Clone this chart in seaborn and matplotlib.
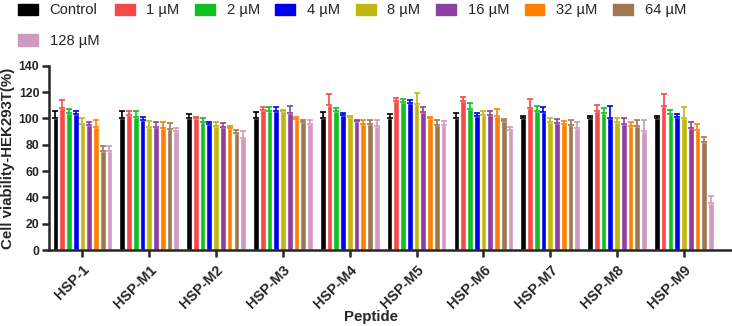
import numpy as np
import pandas as pd
import seaborn as sns
import matplotlib.pyplot as plt

peptides = ['HSP-1', 'HSP-M1', 'HSP-M2', 'HSP-M3', 'HSP-M4',
            'HSP-M5', 'HSP-M6', 'HSP-M7', 'HSP-M8', 'HSP-M9']
doses = ['Control', '1 µM', '2 µM', '4 µM', '8 µM', '16 µM', '32 µM', '64 µM', '128 µM']
colors = ['#000000', '#F94848', '#10C020', '#0000F0', '#C0B810',
          '#8E3FA0', '#FF8000', '#A07850', '#D099C0']

ctrl = [100, 100, 100.5, 100, 100, 100.5, 100.5, 100, 100.5, 100.5]
ctrl_err = [6, 6, 3, 5, 5, 3, 3.5, 2, 1.5, 1.5]
um1 = [108, 103, 100, 106.5, 110, 113.5, 113.5, 108, 106, 109.5]
um1_err = [6, 3, 1, 2.5, 8.5, 2, 3, 7, 4, 9]
um2 = [104.5, 101, 97.5, 105.5, 105.5, 112.5, 107.5, 105.5, 104, 103.5]
um2_err = [3, 5, 2.5, 3, 2.5, 2, 4, 4, 4, 3]
um4 = [103.5, 98.5, 95.5, 106, 102.5, 112, 102, 105, 100.5, 101]
um4_err = [2, 3, 2, 3, 2, 2, 2, 4, 9, 2.5]
um8 = [96, 93.5, 94.5, 105.5, 101, 111, 103, 97, 97.5, 100]
um8_err = [4.5, 4.5, 3, 1, 1, 8, 3, 3, 3, 9]
um16 = [95, 93.5, 93.5, 104.5, 98, 105, 102.5, 96.5, 95.5, 93]
um16_err = [2, 4, 3, 5, 1, 4, 3, 3, 4.5, 4]
um32 = [93.5, 93, 92.5, 99.5, 96, 100.5, 102, 96, 94.5, 91.5]
um32_err = [5.5, 4, 2, 2, 3, 0.5, 5, 2, 3, 4]
um64 = [75, 92, 89, 97, 95.5, 95, 98, 95, 94, 82]
um64_err = [4, 4.5, 2, 2, 3, 3.5, 1.5, 4, 5, 4]
um128 = [75, 90.5, 85.5, 96, 94.5, 95, 91, 93, 90.5, 36]
um128_err = [4, 2.5, 5, 3, 4, 3, 2.5, 4.5, 8.5, 5]

vals = [ctrl, um1, um2, um4, um8, um16, um32, um64, um128]
errs = [ctrl_err, um1_err, um2_err, um4_err, um8_err, um16_err, um32_err, um64_err, um128_err]

rows = []
for d, v, e in zip(doses, vals, errs):
    for p, m, s in zip(peptides, v, e):
        rows.append({'Peptide': p, 'Dose': d, 'Viability': m, 'SD': s})
df = pd.DataFrame(rows)

sns.set_style('ticks')
plt.rcParams['font.family'] = ['Liberation Sans', 'DejaVu Sans']

fig = plt.figure(figsize=(7.32, 3.26), dpi=100)
ax = fig.add_axes([0.067, 0.233, 0.933, 0.565])

sns.barplot(data=df, x='Peptide', y='Viability', hue='Dose', order=peptides,
            hue_order=doses, palette=colors, errorbar=None, width=0.91,
            gap=0.15, saturation=1, ax=ax, legend=False)

# upper error bars only, same colour as the bar
for cont, col, e in zip(ax.containers, colors, errs):
    xs = [b.get_x() + b.get_width() / 2 for b in cont]
    hs = [b.get_height() for b in cont]
    ax.errorbar(xs, hs, yerr=[np.zeros(len(e)), e], fmt='none', ecolor=col,
                elinewidth=1.2, capsize=2, capthick=1.2, zorder=1)

ax.set_ylim(0, 140)
ax.set_yticks(np.arange(0, 141, 20))
ax.set_xlim(-0.5, 9.72)
ax.set_ylabel('Cell viability-HEK293T(%)', fontsize=10.8, fontweight='bold', labelpad=3)
ax.set_xlabel('Peptide', fontsize=10.8, fontweight='bold')
ax.xaxis.set_label_coords(0.471, -0.325)
for s in ['top', 'right']:
    ax.spines[s].set_visible(False)
for s in ['left', 'bottom']:
    ax.spines[s].set_linewidth(1.8)
ax.tick_params(axis='both', width=1.8, length=5, pad=2)
ax.tick_params(axis='y', labelsize=8.8)
ax.tick_params(axis='x', labelsize=10.4, pad=4)
for lab in ax.get_yticklabels():
    lab.set_fontweight('bold')
ax.set_xticks(range(len(peptides)))
ax.set_xticklabels(peptides, rotation=45, ha='right', rotation_mode='anchor',
                   fontweight='bold')

# matplotlib fills legend columns first; put 128 uM under Control
order = [0, 8, 1, 2, 3, 4, 5, 6, 7]
handles = [plt.Rectangle((0, 0), 1, 1, color=colors[i]) for i in order]
labels = [doses[i] for i in order]
fig.legend(handles, labels, loc='upper left', bbox_to_anchor=(0.0246, 0.99),
           ncol=8, frameon=False, fontsize=10.6, handlelength=1.35,
           handleheight=0.8, handletextpad=0.8, columnspacing=1.05,
           borderaxespad=0, borderpad=0, labelspacing=1.15)

fig.savefig('out.png', dpi=100)
